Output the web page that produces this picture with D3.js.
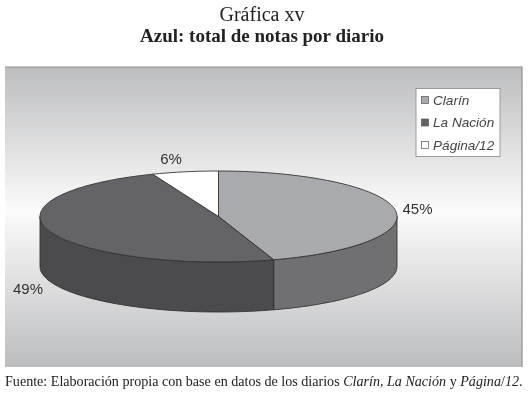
<!DOCTYPE html>
<html>
<head>
<meta charset="utf-8">
<script src="https://cdn.jsdelivr.net/npm/d3@7"></script>
<style>
  html, body { margin: 0; padding: 0; background: #fff; }
  svg { display: block; }
</style>
</head>
<body>
<svg id="chart" width="528" height="393"></svg>
<script>
// values
const categories = ['Clarín', 'La Nación', 'Página/12'];
const values = [45, 49, 6];
const topColors = ['#a9aaad', '#636467', '#ffffff'];
const sideColors = ['#6f7073', '#4b4b4d', '#ffffff'];

const width = 528;
const height = 393;
const panel = { x: 5, y: 67, w: 517, h: 300 };

// pie geometry
const cx = 218.5;
const cy = 216.5;
const rx = 178.5;
const ry = 45.5;
const depth = 50;

const svg = d3.select('#chart');

// the reference is a soft scan, so everything gets a light blur
const defs = svg.append('defs');
defs.append('filter')
  .attr('id', 'soft')
  .attr('x', 0).attr('y', 0).attr('width', 1).attr('height', 1)
  .attr('filterUnits', 'userSpaceOnUse')
  .attr('x', 0).attr('y', 0).attr('width', width).attr('height', height)
  .append('feGaussianBlur').attr('stdDeviation', 0.45);

const root = svg.append('g').attr('filter', 'url(#soft)');

// titles
root.append('text')
  .attr('x', 262).attr('y', 21)
  .attr('text-anchor', 'middle')
  .attr('font-family', 'Liberation Serif')
  .attr('font-size', 20)
  .attr('fill', '#222')
  .text('Gráfica xv');

root.append('text')
  .attr('x', 262).attr('y', 42)
  .attr('text-anchor', 'middle')
  .attr('font-family', 'Liberation Serif')
  .attr('font-weight', 'bold')
  .attr('font-size', 19)
  .attr('fill', '#222')
  .text('Azul: total de notas por diario');

// panel background
const grad = defs.append('linearGradient')
  .attr('id', 'panelGrad')
  .attr('x1', 0).attr('y1', 0).attr('x2', 0).attr('y2', 1);
grad.append('stop').attr('offset', '0%').attr('stop-color', '#bcbdbf');
grad.append('stop').attr('offset', '48%').attr('stop-color', '#fbfbfb');
grad.append('stop').attr('offset', '100%').attr('stop-color', '#bcbdbf');

root.append('rect')
  .attr('x', panel.x).attr('y', panel.y)
  .attr('width', panel.w).attr('height', panel.h)
  .attr('fill', 'url(#panelGrad)');

// darker edge on top and right, as in the scan
root.append('path')
  .attr('d', `M${panel.x},${panel.y}H${panel.x + panel.w}V${panel.y + panel.h}`)
  .attr('fill', 'none')
  .attr('stroke', '#8f9092')
  .attr('stroke-width', 1.2);

// pie slices
const pie = d3.pie().sort(null)(values);
const pt = a => [cx + rx * Math.sin(a), cy - ry * Math.cos(a)];
const line = d3.line();

function rimPoints(a0, a1) {
  const n = Math.max(2, Math.ceil(Math.abs(a1 - a0) / 0.02));
  return d3.range(n + 1).map(i => pt(a0 + (a1 - a0) * i / n));
}

// outer wall, only the part facing front (angle 90deg to 270deg)
pie.forEach((d, i) => {
  const a0 = Math.max(d.startAngle, Math.PI / 2);
  const a1 = Math.min(d.endAngle, Math.PI * 1.5);
  if (a1 <= a0) return;
  const upper = rimPoints(a0, a1);
  const lower = upper.map(p => [p[0], p[1] + depth]).reverse();
  root.append('path')
    .attr('d', line(upper.concat(lower)) + 'Z')
    .attr('fill', sideColors[i])
    .attr('stroke', '#333')
    .attr('stroke-width', 0.9);
});

// top faces
pie.forEach((d, i) => {
  const rim = rimPoints(d.startAngle, d.endAngle);
  root.append('path')
    .attr('d', line([[cx, cy]].concat(rim)) + 'Z')
    .attr('fill', topColors[i])
    .attr('stroke', '#333')
    .attr('stroke-width', 0.9)
    .attr('stroke-linejoin', 'round');
});

// percent labels
const labelPos = [[417.5, 214], [28, 294], [171, 164]];
pie.forEach((d, i) => {
  root.append('text')
    .attr('x', labelPos[i][0]).attr('y', labelPos[i][1])
    .attr('text-anchor', 'middle')
    .attr('font-family', 'Liberation Sans')
    .attr('font-size', 15)
    .attr('fill', '#333')
    .text(values[i] + '%');
});

// legend
const legend = root.append('g');
legend.append('rect')
  .attr('x', 416).attr('y', 88.5)
  .attr('width', 84).attr('height', 68)
  .attr('fill', '#fff')
  .attr('stroke', '#9a9a9a');

const legendY = d3.scalePoint().domain(categories).range([100, 145]);
categories.forEach((c, i) => {
  legend.append('rect')
    .attr('x', 421.5).attr('y', legendY(c) - 3.5)
    .attr('width', 7).attr('height', 7)
    .attr('fill', topColors[i])
    .attr('stroke', '#555')
    .attr('stroke-width', 0.7);
  legend.append('text')
    .attr('x', 433).attr('y', legendY(c) + 4.5)
    .attr('font-family', 'Liberation Sans')
    .attr('font-style', 'italic')
    .attr('font-size', 13.6)
    .attr('fill', '#444')
    .text(c);
});

// source line
const source = root.append('text')
  .attr('x', 5).attr('y', 386)
  .attr('font-family', 'Liberation Serif')
  .attr('font-size', 14.1)
  .attr('fill', '#222');
source.append('tspan').text('Fuente: Elaboración propia con base en datos de los diarios ');
source.append('tspan').attr('font-style', 'italic').text('Clarín, La Nación');
source.append('tspan').text(' y ');
source.append('tspan').attr('font-style', 'italic').text('Página');
source.append('tspan').text('/');
source.append('tspan').attr('font-style', 'italic').text('12');
source.append('tspan').text('.');
</script>
</body>
</html>
